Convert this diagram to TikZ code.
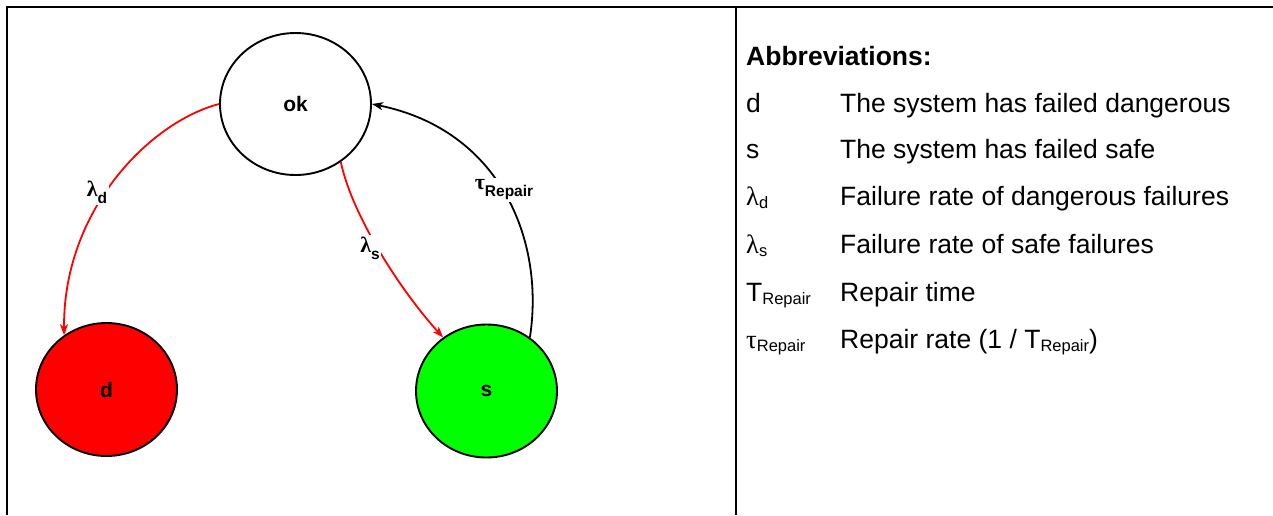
\documentclass[tikz,border=0pt]{standalone}
\usepackage{fontspec}
\setmainfont{Liberation Sans}
\newfontfamily\grk{Liberation Serif}
\usetikzlibrary{shapes.geometric,arrows.meta}
\newcommand\lsub[1]{\raisebox{-3.5pt}{\fontsize{16.5}{16.5}\selectfont #1}}
\newcommand\bsub[1]{\raisebox{-7pt}{\fontsize{15.5}{15.5}\selectfont\bfseries #1}}
\begin{document}
\begin{tikzpicture}[x=1pt,y=-1pt,
  state/.style={ellipse,draw,line width=1.9pt,inner sep=0pt,font=\fontsize{21}{21}\selectfont\bfseries},
  conn/.style={line width=1.8pt,-{Stealth[length=11pt,width=8pt,inset=3pt]}},
  lbl/.style={fill=white,inner sep=1.5pt,font=\fontsize{22}{22}\selectfont\bfseries},
  legend/.style={anchor=base west,inner sep=0pt,font=\fontsize{26.5}{30}\selectfont},
  frame/.style={line width=2pt}]
\useasboundingbox (0,0) rectangle (1273,515);
% frame
\draw[frame] (7,515) -- (7,7) -- (1273,7);
\draw[frame] (735.5,7) -- (735.5,515);
% states
\node[state,minimum width=151pt,minimum height=142pt] (ok) at (295.5,104) {ok};
\node[state,fill=red,minimum width=141pt,minimum height=133pt] (d) at (106.5,389.5) {d};
\node[state,fill=green,minimum width=141pt,minimum height=133pt] (s) at (486.5,391) {s};
% connectors
\draw[conn,red] (ok.west) .. controls (150,122) and (63,210) .. (d.128);
\draw[conn,red] (ok.-52) .. controls (352,215) and (400,290) .. (s.129);
\draw[conn,black] (s.51) .. controls (545,240) and (500,130) .. (ok.east);
% labels
\node[lbl] (ld) at (97,192) {{\grk\bfseries λ}\bsub{d}};
\node[lbl] (ls) at (370,248) {{\grk\bfseries λ}\bsub{s}};
\node[lbl] (tr) at (504,190) {{\grk\bfseries τ}\bsub{Repair}};
% legend
\node[legend,font=\fontsize{26.5}{30}\selectfont\bfseries] (title) at (746,65) {Abbreviations:};
\node[legend] (k1) at (746,112) {d};
\node[legend] (v1) at (840,112) {The system has failed dangerous};
\node[legend] (k2) at (746,158) {s};
\node[legend] (v2) at (840,158) {The system has failed safe};
\node[legend] (k3) at (746,205) {{\grk λ}\lsub{d}};
\node[legend] (v3) at (840,205) {Failure rate of dangerous failures};
\node[legend] (k4) at (746,253) {{\grk λ}\lsub{s}};
\node[legend] (v4) at (840,253) {Failure rate of safe failures};
\node[legend] (k5) at (746,301) {T\lsub{Repair}};
\node[legend] (v5) at (840,301) {Repair time};
\node[legend] (k6) at (746,348) {{\grk τ}\lsub{Repair}};
\node[legend] (v6) at (840,348) {Repair rate (1 / T\lsub{Repair})};
\end{tikzpicture}
\end{document}
